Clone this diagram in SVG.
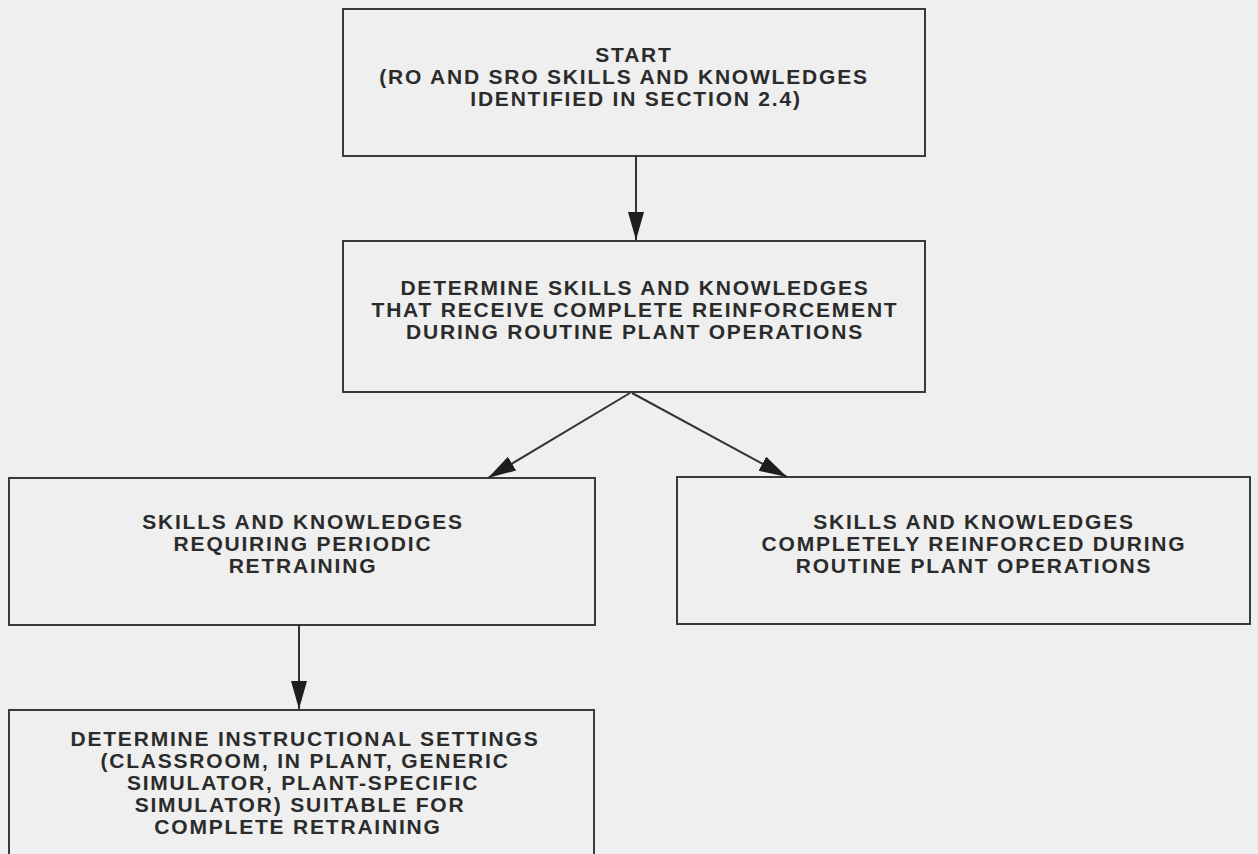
<svg xmlns="http://www.w3.org/2000/svg" width="1258" height="854" viewBox="0 0 1258 854">
  <style>
    .box { fill: none; stroke: #3a3a3a; stroke-width: 2; }
    .lbl { font-family: "Liberation Sans", Arial, sans-serif; font-weight: bold; font-size: 21px; letter-spacing: 1.8px; fill: #2b2b2b; text-anchor: middle; }
    .wire { fill: none; stroke: #333; stroke-width: 2; }
  </style>
  <defs>
    <marker id="head" markerUnits="userSpaceOnUse" markerWidth="30" markerHeight="18" refX="28" refY="8" orient="auto">
      <path d="M0,0 L28,8 L0,16 Z" fill="#1e1e1e"/>
    </marker>
  </defs>
  <rect width="1258" height="854" fill="#efefef"/>

  <g id="start">
    <rect class="box" x="343" y="9" width="582" height="147"/>
    <text class="lbl" x="634" y="62">START</text>
    <text class="lbl" x="624" y="84">(RO AND SRO SKILLS AND KNOWLEDGES</text>
    <text class="lbl" x="636" y="106">IDENTIFIED IN SECTION 2.4)</text>
  </g>

  <g id="determine-reinforcement">
    <rect class="box" x="343" y="241" width="582" height="151"/>
    <text class="lbl" x="635" y="295">DETERMINE SKILLS AND KNOWLEDGES</text>
    <text class="lbl" x="635" y="317">THAT RECEIVE COMPLETE REINFORCEMENT</text>
    <text class="lbl" x="635" y="339">DURING ROUTINE PLANT OPERATIONS</text>
  </g>

  <g id="periodic-retraining">
    <rect class="box" x="9" y="478" width="586" height="147"/>
    <text class="lbl" x="303" y="529">SKILLS AND KNOWLEDGES</text>
    <text class="lbl" x="303" y="551">REQUIRING PERIODIC</text>
    <text class="lbl" x="303" y="573">RETRAINING</text>
  </g>

  <g id="completely-reinforced">
    <rect class="box" x="677" y="477" width="573" height="147"/>
    <text class="lbl" x="974" y="529">SKILLS AND KNOWLEDGES</text>
    <text class="lbl" x="974" y="551">COMPLETELY REINFORCED DURING</text>
    <text class="lbl" x="974" y="573">ROUTINE PLANT OPERATIONS</text>
  </g>

  <g id="instructional-settings">
    <rect class="box" x="9" y="710" width="585" height="160"/>
    <text class="lbl" x="305" y="746">DETERMINE INSTRUCTIONAL SETTINGS</text>
    <text class="lbl" x="305" y="768">(CLASSROOM, IN PLANT, GENERIC</text>
    <text class="lbl" x="303" y="790">SIMULATOR, PLANT-SPECIFIC</text>
    <text class="lbl" x="300" y="812">SIMULATOR) SUITABLE FOR</text>
    <text class="lbl" x="298" y="834">COMPLETE RETRAINING</text>
  </g>

  <g id="connectors">
    <line class="wire" x1="636" y1="156" x2="636" y2="240" marker-end="url(#head)"/>
    <line class="wire" x1="630" y1="393" x2="488" y2="478" marker-end="url(#head)"/>
    <line class="wire" x1="632" y1="393" x2="787" y2="477" marker-end="url(#head)"/>
    <line class="wire" x1="299" y1="625" x2="299" y2="709" marker-end="url(#head)"/>
  </g>
</svg>
